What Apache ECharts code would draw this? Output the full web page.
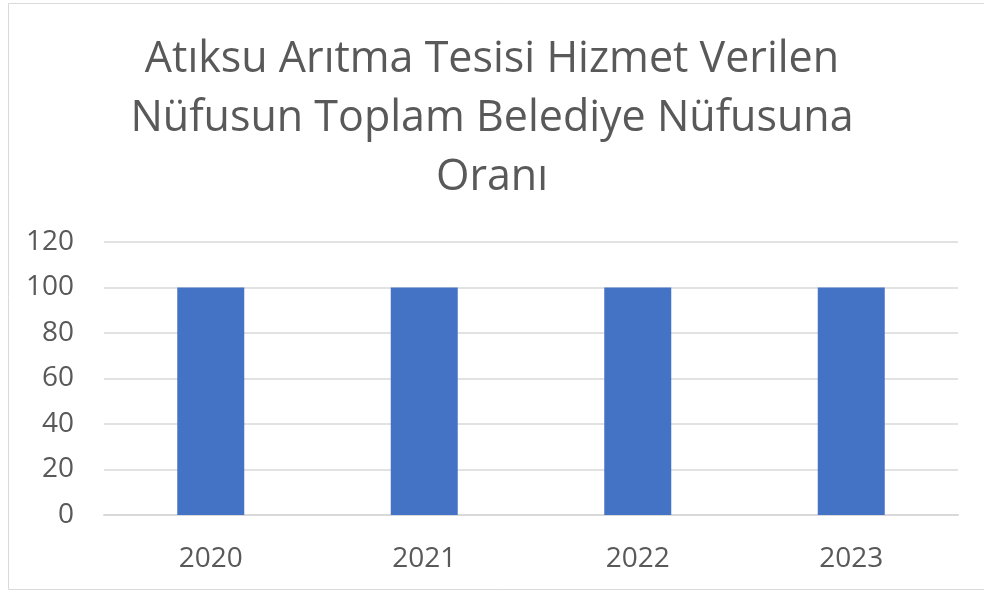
<!DOCTYPE html>
<html lang="tr">
<head>
    <meta charset="UTF-8">
    <title>Atıksu Arıtma Tesisi</title>
    <script src="https://cdn.jsdelivr.net/npm/echarts@6/dist/echarts.min.js"></script>
    <style>
        html, body { margin: 0; padding: 0; background: #fff; }
        #main { width: 984px; height: 592px; }
    </style>
</head>
<body>
    <div id="main"></div>
    <script>
        // data
        let years = ['2020', '2021', '2022', '2023'];
        let ratios = [100, 100, 100, 100];
        let titleText = 'Atıksu Arıtma Tesisi Hizmet Verilen\nNüfusun Toplam Belediye Nüfusuna\nOranı';

        let myChart = echarts.init(document.getElementById('main'));

        let option = {
            backgroundColor: '#fff',
            textStyle: { fontFamily: 'Open Sans' },
            title: {
                text: titleText,
                left: 'center',
                top: 25,
                textStyle: {
                    fontFamily: 'Open Sans',
                    fontSize: 43,
                    fontWeight: 'normal',
                    color: '#595959',
                    lineHeight: 59
                }
            },
            graphic: [{
                type: 'rect',
                shape: { x: 8.5, y: 3.5, width: 990, height: 586 },
                style: { fill: 'none', stroke: '#d9d9d9', lineWidth: 1 },
                silent: true
            }],
            grid: { left: 104, right: 26, top: 242, bottom: 77 },
            xAxis: {
                type: 'category',
                data: years,
                axisLine: { lineStyle: { color: '#d9d9d9', width: 2 } },
                axisTick: { show: false },
                axisLabel: { color: '#595959', fontSize: 28, margin: 30 }
            },
            yAxis: {
                type: 'value',
                min: 0,
                max: 120,
                interval: 20,
                axisLine: { show: false },
                axisTick: { show: false },
                splitLine: { lineStyle: { color: '#d9d9d9', width: 1.5 } },
                axisLabel: { color: '#595959', fontSize: 28, margin: 30 }
            },
            series: [{
                type: 'bar',
                data: ratios,
                barWidth: 67,
                itemStyle: { color: '#4472c4' }
            }]
        };

        myChart.setOption(option);
    </script>
</body>
</html>
